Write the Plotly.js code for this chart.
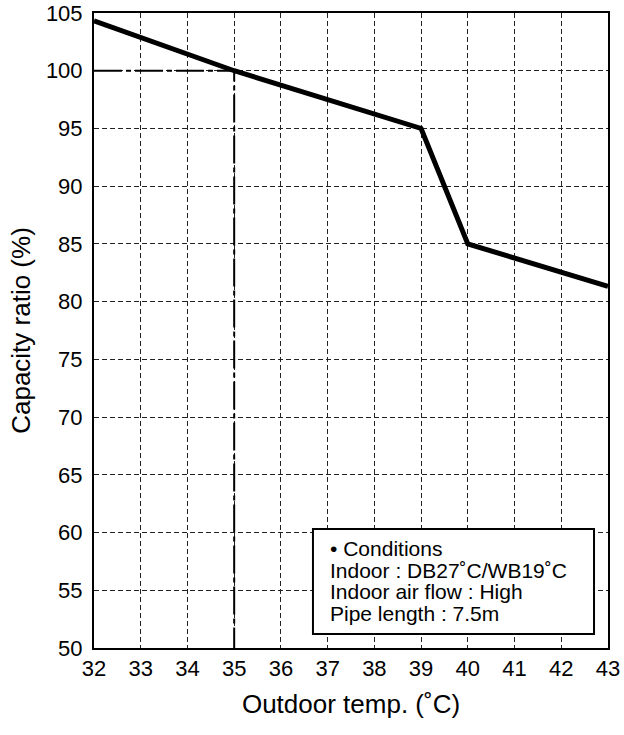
<!DOCTYPE html>
<html>
<head>
<meta charset="utf-8">
<script src="https://cdn.plot.ly/plotly-3.0.1.min.js"></script>
<style>html,body{margin:0;padding:0;background:#fff;}#chart{width:624px;height:735px;}</style>
</head>
<body>
<div id="chart"></div>
<script>
// Data
const outdoorTemp = [32, 35, 39, 40, 43];
const capacityRatio = [104.33, 100, 95, 85, 81.33];
const ratedTemp = 35;
const ratedCapacity = 100;
const xTicks = [32, 33, 34, 35, 36, 37, 38, 39, 40, 41, 42, 43];
const yTicks = [50, 55, 60, 65, 70, 75, 80, 85, 90, 95, 100, 105];
const xRange = [32, 43];
const yRange = [50, 105];
const conditionsLines = [
  "\u2022 Conditions",
  "Indoor : DB27\u02DAC/WB19\u02DAC",
  "Indoor air flow : High",
  "Pipe length : 7.5m"
];
const xTitle = "Outdoor temp. (\u02DAC)";
const yTitle = "Capacity ratio (%)";

const FONT = "Liberation Sans, Arial, sans-serif";

const traces = [
  {
    x: [xRange[0], ratedTemp, ratedTemp],
    y: [ratedCapacity, ratedCapacity, yRange[0]],
    mode: 'lines',
    line: {color: '#000', width: 2, dash: '28px,4px,5px,4px'},
    hoverinfo: 'skip'
  },
  {
    x: outdoorTemp,
    y: capacityRatio,
    mode: 'lines',
    line: {color: '#000', width: 5}
  }
];

const lineY = [0.1564, 0.1224, 0.0882, 0.0551];
const annotations = conditionsLines.map((t, i) => ({
  xref: 'paper', yref: 'paper',
  x: 0.456, y: lineY[i],
  xanchor: 'left', yanchor: 'middle',
  text: t, showarrow: false,
  font: {family: FONT, size: 21, color: '#000'}
}));

const layout = {
  width: 624, height: 735,
  margin: {l: 94, r: 16, t: 13, b: 87},
  paper_bgcolor: '#fff', plot_bgcolor: '#fff',
  showlegend: false,
  font: {family: FONT, color: '#000'},
  xaxis: {
    range: xRange, tickvals: xTicks, ticktext: xTicks.map(String),
    showgrid: true, gridcolor: '#222', gridwidth: 1, griddash: '5px,3px',
    showline: true, linecolor: '#000', linewidth: 2, mirror: true,
    zeroline: false, ticks: '', 
    tickfont: {family: FONT, size: 22, color: '#000'},
    title: {text: xTitle, font: {family: FONT, size: 26, color: '#000'}, standoff: 14}
  },
  yaxis: {
    range: yRange, tickvals: yTicks, ticktext: yTicks.map(String),
    showgrid: true, gridcolor: '#222', gridwidth: 1, griddash: '5px,3px',
    showline: true, linecolor: '#000', linewidth: 2, mirror: true,
    zeroline: false, ticks: 'outside', ticklen: 5, tickcolor: 'rgba(0,0,0,0)',
    tickfont: {family: FONT, size: 22, color: '#000'},
    title: {text: yTitle, font: {family: FONT, size: 26, color: '#000'}, standoff: 8}
  },
  shapes: [{
    type: 'rect', xref: 'paper', yref: 'paper',
    x0: 0.426, x1: 0.9728, y0: 0.022, y1: 0.1874,
    line: {color: '#000', width: 2}, fillcolor: '#fff', layer: 'above'
  }],
  annotations: annotations
};

Plotly.newPlot('chart', traces, layout, {displayModeBar: false, staticPlot: true});
</script>
</body>
</html>
